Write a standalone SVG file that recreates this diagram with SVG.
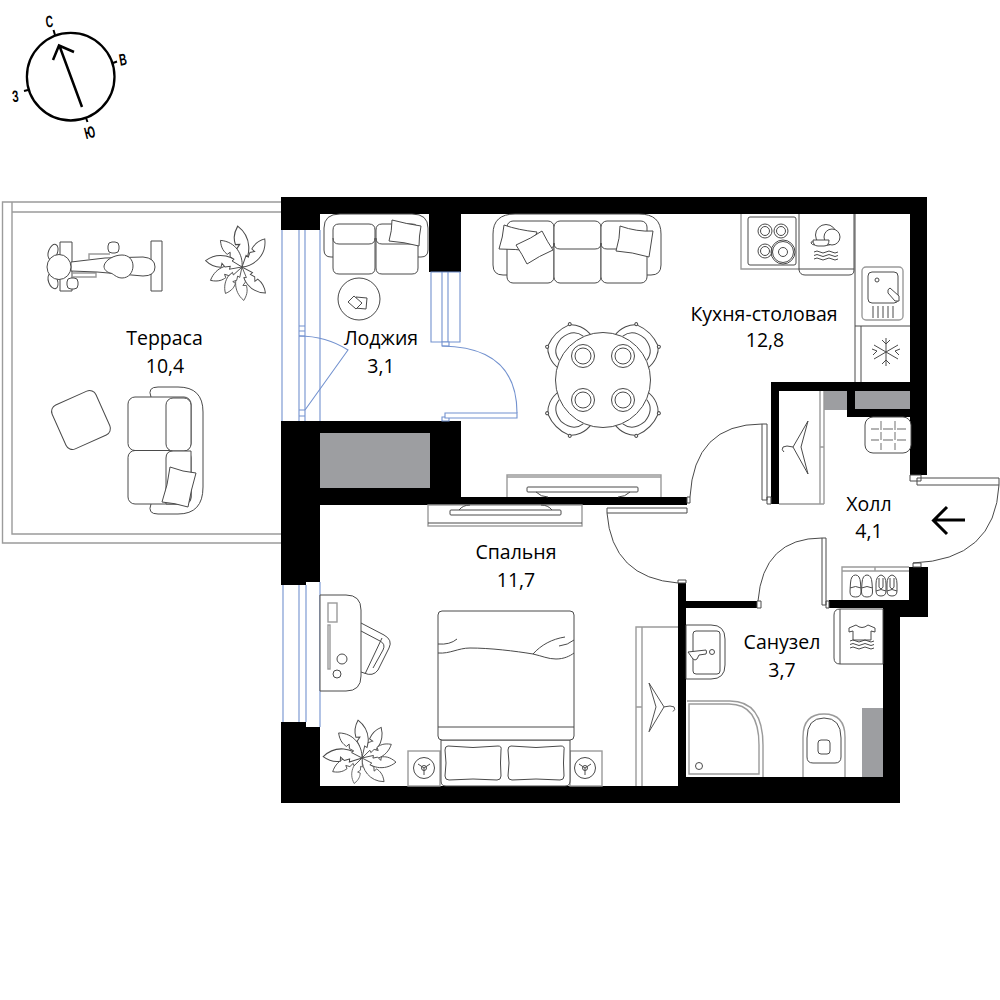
<svg xmlns="http://www.w3.org/2000/svg" xmlns:xlink="http://www.w3.org/1999/xlink" width="1000" height="1000" viewBox="0 0 1000 1000">
<style>
.l{fill:#fff;stroke:#4a4a4a;stroke-width:1}
.n{fill:none;stroke:#4a4a4a;stroke-width:1}
.g{fill:none;stroke:#9b9b9b;stroke-width:1.4}
.b{fill:#fff;stroke:#7392cf;stroke-width:1.1}
.bn{fill:none;stroke:#7392cf;stroke-width:1.1}
.w{fill:#000}
.h{fill:#9d9ea1}
.t{font-family:"Open Sans","Noto Sans",sans-serif;font-size:19.5px;fill:#000;text-anchor:middle}
.c{font-family:"Liberation Sans",sans-serif;font-size:16.500px;font-weight:700;fill:#000;text-anchor:middle}
</style>
<defs>
<path id="leaf" class="l" d="M0 0C9-10 11-27-2-38C-7-30-6-25-5-21L-1-21L-4-17L-2-12L-5-12Z"/>
<g id="chair"><path class="n" d="M-23-39C-25-50-20-59-15-63Q0-69 15-63C20-59 25-50 23-39M-17-45C-16-53-10-58 0-59C10-58 16-53 17-45"/><circle class="l" cx="-16" cy="-63" r="1.500"/><circle class="l" cx="16" cy="-63" r="1.500"/></g>
<g id="hanger"><path class="n" d="M0 0L-15 26L0 53L-7 26ZM-15 26Q-22 24-25 26Q-27 29-24 31"/></g>
<g id="waves"><path class="n" d="M0 0q3-2 6 0t6 0t6 0t6 0M0 3.500q3-2 6 0t6 0t6 0t6 0M0 7q3-2 6 0t6 0t6 0t6 0"/></g>
<g id="stand"><circle class="n" r="10.500"/><path class="n" d="M0 0V7M0 0L-6-4M0 0L6-4"/><circle class="n" r="2.500"/></g>
<g id="shoe"><path class="n" d="M0 0Q-4.500 0-5 8Q-5.500 14-5.500 17Q-5.500 22 0 22Q5.500 22 5.500 17Q5.500 14 5 8Q4.500 0 0 0ZM-5.500 13Q0 10 5.500 13"/></g>
<g id="flip"><path class="n" d="M0 0Q-5 1-5 9V16Q-5 21 0 21Q5 21 5 16V9Q5 1 0 0ZM-2 3V9Q-3 13 0 14Q3 13 2 9V3M-5 16Q0 13 5 16"/></g>
</defs>

<g id="terrace">
<path class="g" d="M281 202H2.500V543H281M12 202V534H281M12 212H281"/>
<path class="n" d="M60 242H72V291H60ZM151 241H162V291H151Z"/>
<path class="g" d="M89 259V254H110M72 273H96V277H72"/>
<path class="l" d="M71 262L105 258L143 257Q155 258 155 267Q155 276 143 276L97 272L71 271Z"/>
<ellipse class="n" cx="53" cy="252" rx="4.500" ry="8" transform="rotate(20 53 252)"/>
<ellipse class="n" cx="53" cy="281" rx="4.500" ry="8" transform="rotate(-20 53 281)"/>
<ellipse class="l" cx="59" cy="267" rx="12" ry="12.500"/>
<rect class="l" x="108" y="242" width="11" height="11" rx="4"/>
<rect class="l" x="67" y="278" width="11" height="11" rx="4"/>
<path class="l" d="M104 266C105 260 114 255 122 255C129 255 133 260 133 266C133 272 129 278 122 278C116 278 113 273 110 273C107 272 104 270 104 266Z"/>
<g transform="translate(242 267)"><use xlink:href="#leaf" transform="rotate(-3) scale(1.080)"/><use xlink:href="#leaf" transform="rotate(42) scale(.95)"/><use xlink:href="#leaf" transform="rotate(141) scale(.92)"/><use xlink:href="#leaf" transform="rotate(180) scale(.88)"/><use xlink:href="#leaf" transform="rotate(-145) scale(.82)"/><use xlink:href="#leaf" transform="rotate(-110) scale(.9)"/><use xlink:href="#leaf" transform="rotate(-77) scale(.97)"/><use xlink:href="#leaf" transform="rotate(-36) scale(.9)"/></g>
<rect class="l" x="57" y="396" width="48" height="48" rx="7" transform="rotate(-24 81 420)"/>
<path class="n" d="M151 397Q147 387 158 387H178Q203 387 203 412V487Q203 514 178 514H158Q147 514 151 504"/>
<rect class="n" x="128" y="397" width="63" height="53.500" rx="7"/>
<rect class="n" x="128" y="450.500" width="63" height="53.500" rx="7"/>
<rect class="l" x="166" y="398" width="25" height="53" rx="7"/>
<path class="l" d="M166 504V458Q166 451 173 451H191V497Q191 504 184 504Z"/>
<path class="l" d="M170 467Q183 472 196 473Q191 490 188 507Q175 503 162 502Q168 485 170 467Z"/>
</g>

<g id="walls">
<path class="w" fill-rule="evenodd" d="M281 197H927V475H910V214H461V272H429V214H320V230H281Z"/>
<path class="w" fill-rule="evenodd" d="M281 421H461V497H687V505H320V582H306V585H281ZM320 433V488H430V433Z"/>
<path class="w" d="M281 722H306V727H320V786H678V583H686V601H757V608H686V777H883V608H829V600H909V567H928V617H900V803H281Z"/>
<path class="w" d="M771 382H910V417H847V391H779V504H771Z"/>
<rect class="h" x="320" y="433" width="110" height="55"/>
<rect class="h" x="824" y="391" width="23" height="19"/>
<rect class="h" x="855" y="391" width="55" height="18"/>
<rect class="h" x="862" y="708" width="21" height="69"/>
</g>

<g id="windows">
<path class="bn" d="M282 230V421M299 230V421M305 230V421M320 230V421"/>
<path class="bn" d="M299 326H305M299 331H305M299 336H305M299 410H305M299 416H305"/>
<path class="bn" d="M299 336Q326 336 348 350L305 410"/>
<path class="b" d="M431 272H460V342H431ZM442 272V342M448 272V342"/>
<path class="b" d="M442 342H449V346H442ZM442 417H449V421H442Z"/>
<path class="bn" d="M442 346Q517 347 517 413"/>
<path class="b" d="M445 413H517V418H445Z"/>
<rect x="306" y="582" width="14" height="145" fill="#fff"/>
<path class="bn" d="M283 585V722M299 585V722M306 585V722M320 582V727"/>
</g>

<g id="doors">
<path class="n" d="M762 424V500H767V424ZM762 424Q694 424 690 497M767 497H771V504H767ZM687 497H690V503H687Z"/>
<path class="n" d="M607 508H687V513H607ZM607 513Q612 578 678 583M678 580H686V583H678Z"/>
<path class="n" d="M822 538V605H826V538ZM822 538Q763 538 758 601M757 601H761V608H757ZM826 601H829V608H826Z"/>
<path class="n" d="M917 478H999V485H917ZM999 485Q995 560 913 563M910 475H921V481H910ZM913 563H921V567H913Z"/>
</g>

<g id="lodge-furniture">
<path class="n" d="M334 257H331Q324 257 324 250V228Q324 214 340 214H412Q428 214 428 228V250Q428 257 421 257H418"/>
<path class="l" d="M333 230Q333 224 339 224H369Q375 224 375 230V268Q375 274 369 274H339Q333 274 333 268Z"/>
<path class="l" d="M376 230Q376 224 382 224H412Q418 224 418 230V268Q418 274 412 274H382Q376 274 376 268Z"/>
<path class="n" d="M333 238Q333 244 339 244H369Q375 244 375 238M376 238Q376 244 382 244H412Q418 244 418 238"/>
<path class="l" d="M392 220Q407 224 421 226Q419 236 419 246Q404 242 389 241Q392 231 392 220Z"/>
<circle class="n" cx="359" cy="299" r="21"/>
<path class="l" d="M356 297L367 298L366 309L355 308Z"/>
<path class="l" d="M348 302L354 296L362 303L356 309Z"/>
</g>

<g id="kitchen">
<path class="n" d="M507 275H503Q493 275 493 265V234Q493 214 515 214H639Q661 214 661 234V265Q661 275 651 275H647"/>
<rect class="l" x="507" y="221" width="47" height="62" rx="6"/>
<rect class="l" x="554" y="221" width="47" height="62" rx="6"/>
<rect class="l" x="601" y="221" width="46" height="62" rx="6"/>
<path class="n" d="M507 243Q507 249 513 249H548Q554 249 554 243M554 243Q554 249 560 249H595Q601 249 601 243M601 243Q601 249 607 249H641Q647 249 647 243"/>
<path class="l" d="M504 225Q518 230 537 232L530 251Q516 249 499 249Q503 237 504 225Z"/>
<path class="l" d="M516 245Q532 238 542 231Q548 243 553 250Q539 256 527 264Q522 254 516 245Z"/>
<path class="l" d="M620 226Q637 232 653 231Q651 244 649 257Q632 252 616 251Q620 238 620 226Z"/>
<use xlink:href="#chair" transform="translate(603 380) rotate(-45)"/>
<use xlink:href="#chair" transform="translate(603 380) rotate(45)"/>
<use xlink:href="#chair" transform="translate(603 380) rotate(135)"/>
<use xlink:href="#chair" transform="translate(603 380) rotate(-135)"/>
<circle class="l" cx="603" cy="380" r="47.500"/>
<circle class="n" cx="583" cy="356" r="11.500"/><circle class="n" cx="583" cy="356" r="8"/><circle class="n" cx="623" cy="356" r="11.500"/><circle class="n" cx="623" cy="356" r="8"/><circle class="n" cx="583" cy="400" r="11.500"/><circle class="n" cx="583" cy="400" r="8"/><circle class="n" cx="623" cy="400" r="11.500"/><circle class="n" cx="623" cy="400" r="8"/>
<path class="g" d="M507 497V475H661V497M507 477H661"/>
<rect class="n" x="527" y="487" width="111" height="5" rx="1"/>
<path class="n" d="M536 492Q541 497 548 497M630 492Q625 497 618 497"/>
<path class="g" d="M741 214V269H799"/>
<rect class="n" x="748" y="217" width="48" height="48" rx="2"/>
<circle class="n" cx="765" cy="231" r="7"/><circle class="n" cx="765" cy="231" r="4.500"/>
<circle class="n" cx="781" cy="231" r="7"/><circle class="n" cx="781" cy="231" r="4.500"/>
<circle class="n" cx="765" cy="251" r="7"/><circle class="n" cx="765" cy="251" r="4.500"/>
<circle class="n" cx="783" cy="252" r="12"/><circle class="n" cx="783" cy="252" r="10.500"/><circle class="n" cx="783" cy="252" r="4.500"/>
<path class="n" d="M799 214V270Q800 275 805 275H849Q854 275 854 270V214M799 269H854"/>
<circle class="n" cx="826" cy="235" r="10.500"/><circle class="l" cx="832" cy="237" r="8"/>
<path class="l" d="M813 240H829Q829 246 824 246H818Q813 246 813 240ZM813 242Q811 241 811 243Q812 245 815 245"/>
<use xlink:href="#waves" transform="translate(814 252)"/>
<path class="n" d="M855 214V382M861 326V382M855 326H910"/>
<rect class="g" x="862" y="267" width="41" height="53" rx="4"/>
<rect class="n" x="868" y="272" width="30" height="31" rx="4"/>
<circle class="n" cx="877" cy="280" r="2"/>
<path class="l" d="M890 288L899 296V301H895L888 293Q887 289 890 288Z"/>
<path class="n" d="M873 306V318M878 306V318M883 306V318M888 306V318M893 306V318"/>
<path class="n" d="M886 338V366M874 345L898 359M898 345L874 359M882 340L886 344L890 340M882 364L886 360L890 364M872 349L877 351L873 355M900 349L895 351L899 355"/>
</g>

<g id="hall-furniture">
<path class="g" d="M820 391V504M824 391V504M779 504H824M820 447H824"/>
<use xlink:href="#hanger" transform="translate(808 421)"/>
<rect class="l" x="865" y="417" width="46" height="36" rx="8"/>
<path class="g" stroke-width="1" d="M881 421V430M881 432V440M881 443V450M895 421V430M895 432V440M895 443V450M871 429H879M883 429H893M897 429H906M871 440H879M883 440H893M897 440H906"/>
<path class="g" d="M842 600V567H909M842 571H909M875 567V571"/>
<use xlink:href="#shoe" transform="translate(855.500 575)"/>
<use xlink:href="#shoe" transform="translate(867 575)"/>
<use xlink:href="#flip" transform="translate(881 575)"/>
<use xlink:href="#flip" transform="translate(892 575)"/>
<path d="M965 520H934M947 507L933.500 520.500L947 534" fill="none" stroke="#000" stroke-width="3"/>
</g>

<g id="bedroom-furniture">
<rect class="g" x="428" y="505" width="154" height="21"/>
<path class="n" d="M428 523H582"/>
<rect class="n" x="450" y="510" width="111" height="5" rx="1"/>
<path class="n" d="M459 510Q463 505 470 505M552 510Q548 505 541 505"/>
<path class="n" d="M361 623L384 635Q393 640 389 648L378 670Q373 677 364 673L361 672M361 631L380 641Q386 644 383 650L373 668M382 638L365 674"/>
<path class="l" d="M320 595H346Q361 595 361 610V676Q361 691 346 691H320Z"/>
<rect class="g" x="328" y="603" width="9" height="19"/>
<rect class="g" x="328" y="625" width="2" height="44"/>
<circle class="n" cx="342" cy="659" r="5"/><circle class="n" cx="337" cy="674" r="4"/>
<g transform="translate(362 758)"><use xlink:href="#leaf" transform="rotate(-3)"/><use xlink:href="#leaf" transform="rotate(35) scale(.95)"/><use xlink:href="#leaf" transform="rotate(68) scale(.85)"/><use xlink:href="#leaf" transform="rotate(100) scale(.9)"/><use xlink:href="#leaf" transform="rotate(140) scale(.85)"/><use xlink:href="#leaf" transform="rotate(-160) scale(.7)"/><use xlink:href="#leaf" transform="rotate(-112) scale(.85)"/><use xlink:href="#leaf" transform="rotate(-85) scale(1.02)"/><use xlink:href="#leaf" transform="rotate(-40) scale(.9)"/></g>
<rect class="g" x="408" y="751" width="32" height="35"/>
<rect class="g" x="570" y="751" width="32" height="35"/>
<use xlink:href="#stand" transform="translate(424 768)"/>
<use xlink:href="#stand" transform="translate(585 768)"/>
<path class="l" d="M441 740H570V781Q570 786 565 786H446Q441 786 441 781Z"/>
<path class="l" d="M448 746Q473 749 498 746Q502 746 501 750Q500 763 501 776Q501 780 497 780Q473 778 449 780Q445 780 445 776Q447 763 445 750Q445 746 448 746Z"/>
<path class="l" d="M511 746Q536 749 561 746Q565 746 564 750Q563 763 564 776Q564 780 560 780Q536 778 512 780Q508 780 508 776Q510 763 508 750Q508 746 511 746Z"/>
<rect class="l" x="438" y="611" width="136" height="129" rx="4"/>
<path class="n" d="M438 727H574"/>
<path class="n" d="M438 644Q450 645 457 639"/>
<path class="n" d="M438 653C450 654 458 648 470 648C490 648 515 651 533 654C542 656 548 659 556 659C564 659 570 656 574 653M533 654C541 645 552 639 565 637M559 646Q568 645 574 640"/>
<path class="g" d="M636 786V627H678M642 786V627M636 707H642"/>
<use xlink:href="#hanger" transform="translate(649 683) scale(-1 .92)"/>
</g>

<g id="bath-furniture">
<path class="l" d="M686 625H711Q725 625 725 639V665Q725 679 711 679H686Z" stroke="#777"/>
<rect class="n" x="693" y="631" width="27" height="43" rx="3"/>
<path class="l" d="M688 652L706 650Q707 652 706 654L699 655L697 659Q695 661 693 659Z"/>
<circle class="n" cx="712" cy="652" r="2.500"/>
<path class="g" d="M687 701H730Q763 701 763 745V777"/>
<path class="g" d="M689 774V704H729Q759 704 759 745V774Z"/>
<circle class="n" cx="699" cy="766" r="3.500"/>
<path class="g" d="M803 777V737Q803 714 824 714Q845 714 845 737V777"/>
<path class="n" d="M807 738Q807 718 824 718Q841 718 841 738V757Q841 763 835 763H813Q807 763 807 757Z"/>
<rect class="n" x="818" y="740" width="12" height="14" rx="3"/>
<path class="l" d="M883 609H840Q834 609 834 615V658Q834 664 840 664H883Z" stroke="#777"/>
<path class="n" d="M840 609V664"/>
<path class="n" d="M856 625L849 628V632L853 631V640H871V631L875 632V628L868 625Q862 630 856 625Z"/>
<use xlink:href="#waves" transform="translate(850 641)"/>
</g>

<g id="compass">
<circle cx="70.700" cy="76.700" r="43.800" fill="none" stroke="#000" stroke-width="2.300"/>
<path fill="none" stroke="#000" stroke-width="2" d="M55 35L53.500 30M113 63L117 61.500M86 118L87.500 122M28 90L24 91"/>
<path fill="none" stroke="#000" stroke-width="2.500" d="M82 107L59.500 46M53 60L59 45.500L74 52"/>
<text class="c" transform="translate(50 27) rotate(-6) scale(.62 1)">С</text>
<text class="c" transform="translate(124 65) rotate(-10) scale(.62 1)">В</text>
<text class="c" transform="translate(91 138) rotate(-14) scale(.62 1)">Ю</text>
<text class="c" transform="translate(16 102) rotate(-6) scale(.62 1)">З</text>
</g>

<g id="labels">
<text class="t" x="164.500" y="345">Терраса</text><text class="t" x="165" y="372.500">10,4</text>
<text class="t" x="381" y="345">Лоджия</text><text class="t" x="381" y="373">3,1</text>
<text class="t" x="764" y="321">Кухня-столовая</text><text class="t" x="765" y="347">12,8</text>
<text class="t" x="869" y="511">Холл</text><text class="t" x="869" y="538">4,1</text>
<text class="t" x="516" y="559">Спальня</text><text class="t" x="516" y="587">11,7</text>
<text class="t" x="782" y="649">Санузел</text><text class="t" x="782" y="677">3,7</text>
</g>
</svg>
